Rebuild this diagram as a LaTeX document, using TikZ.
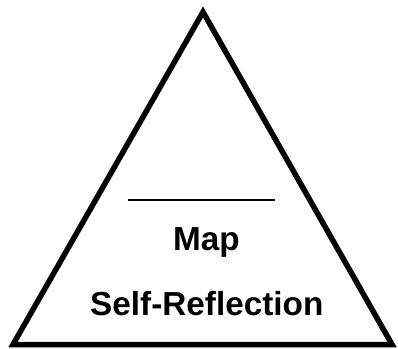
\documentclass[tikz,border=0pt]{standalone}
\usepackage{fontspec}
\setmainfont{Liberation Sans}
\begin{document}
\begin{tikzpicture}[x=1pt,y=1pt,
  lbl/.style={font=\fontsize{33.3}{38}\selectfont\bfseries, anchor=base, inner sep=0pt}]
\useasboundingbox (0,0) rectangle (398,348);
\coordinate (A) at (203,336);
\coordinate (B) at (13,3.5);
\coordinate (C) at (392,3.5);
\draw[line width=5.5pt, line join=miter] (A) -- (B) -- (C) -- cycle;
\coordinate (L1) at (128,148);
\coordinate (L2) at (275,148);
\draw[line width=1.8pt] (L1) -- (L2);
\node[lbl] (map) at (206.5,98) {Map};
\node[lbl] (sr) at (206.8,33) {Self-Reflection};
\end{tikzpicture}
\end{document}
